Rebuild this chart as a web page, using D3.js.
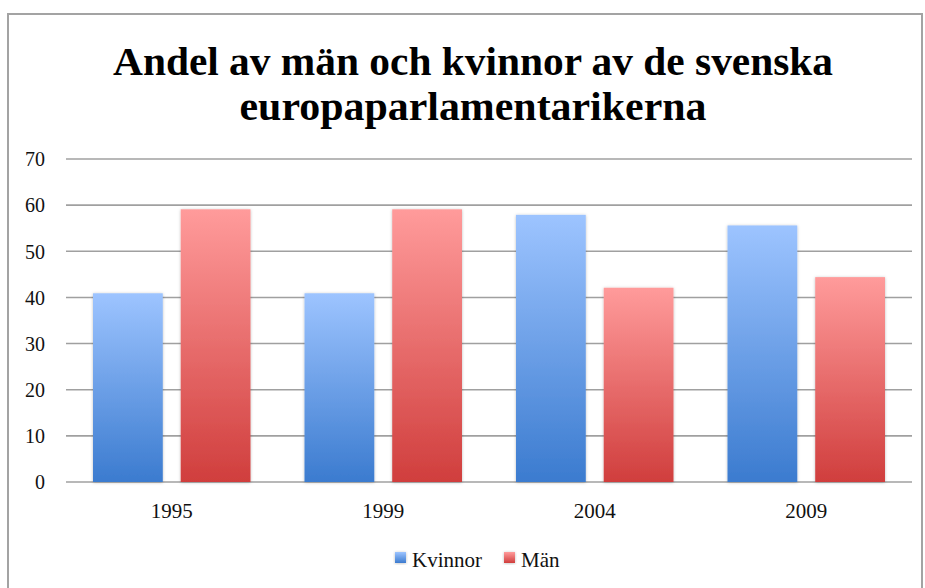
<!DOCTYPE html>
<html>
<head>
<meta charset="utf-8">
<script src="https://cdn.jsdelivr.net/npm/d3@7"></script>
<style>
  html, body { margin: 0; padding: 0; background: #fff; }
  svg { display: block; }
</style>
</head>
<body>
<svg id="chart" width="925" height="588"></svg>
<script>
const categories = ["1995", "1999", "2004", "2009"];
const seriesNames = ["Kvinnor", "Män"];
const kvinnor = [40.9, 40.9, 57.9, 55.6];
const man = [59.1, 59.1, 42.1, 44.4];
const yTicks = [0, 10, 20, 30, 40, 50, 60, 70];
const titleLines = ["Andel av män och kvinnor av de svenska", "europaparlamentarikerna"];

const seriesValues = [kvinnor, man];
const colors = [
  { top: "#9dc4ff", bottom: "#3b7bcf" },
  { top: "#ff9b9b", bottom: "#d03e3d" }
];

const svg = d3.select("#chart");
const font = "Liberation Serif, DejaVu Serif, serif";

const defs = svg.append("defs");
colors.forEach((c, i) => {
  const g = defs.append("linearGradient")
    .attr("id", "grad" + i)
    .attr("x1", 0).attr("y1", 0).attr("x2", 0).attr("y2", 1);
  g.append("stop").attr("offset", "0%").attr("stop-color", c.top);
  g.append("stop").attr("offset", "100%").attr("stop-color", c.bottom);
});
const f = defs.append("filter").attr("id", "shadow")
  .attr("x", "-10%").attr("y", "-10%").attr("width", "120%").attr("height", "120%");
f.append("feDropShadow").attr("dx", 0).attr("dy", 0.5)
  .attr("stdDeviation", 1.5).attr("flood-color", "#000").attr("flood-opacity", 0.25);

// frame
svg.append("rect")
  .attr("x", 8).attr("y", 14).attr("width", 914).attr("height", 620)
  .attr("fill", "#fff").attr("stroke", "#a3a3a3").attr("stroke-width", 2);

// title
const titleWidths = [720, 467];
svg.append("g").selectAll("text").data(titleLines).join("text")
  .attr("x", 473)
  .attr("y", (d, i) => 75 + i * 45)
  .attr("text-anchor", "middle")
  .attr("font-family", font)
  .attr("font-weight", "bold")
  .attr("font-size", 40)
  .attr("fill", "#000")
  .attr("textLength", (d, i) => titleWidths[i])
  .attr("lengthAdjust", "spacingAndGlyphs")
  .text(d => d);

// scales
const plot = { left: 66, right: 912, top: 159, bottom: 482 };
const y = d3.scaleLinear().domain([0, 70]).range([plot.bottom, plot.top]);
const x0 = d3.scaleBand().domain(categories).range([plot.left, plot.right]).padding(0);
const bw = x0.bandwidth();
const x1 = d3.scaleBand().domain(seriesNames)
  .range([bw * 0.1277, bw * 0.8723]).paddingInner(0.2045).paddingOuter(0);

// gridlines
svg.append("g").selectAll("line").data(yTicks).join("line")
  .attr("x1", plot.left).attr("x2", plot.right)
  .attr("y1", d => y(d)).attr("y2", d => y(d))
  .attr("stroke", "#a0a0a0").attr("stroke-width", 1.6);

// y axis labels
const yAxis = d3.axisLeft(y).tickValues(yTicks).tickSize(0).tickPadding(0).tickFormat(d3.format("d"));
const ya = svg.append("g").attr("transform", `translate(45,0)`).call(yAxis);
ya.select(".domain").remove();
ya.selectAll("text").attr("font-family", font).attr("font-size", 20).attr("fill", "#111").attr("dy", "0.34em");

// bars
const groups = svg.append("g").selectAll("g").data(categories).join("g")
  .attr("transform", d => `translate(${x0(d)},0)`);
groups.selectAll("rect")
  .data((c, ci) => seriesNames.map((s, si) => ({ s, si, v: seriesValues[si][ci] })))
  .join("rect")
  .attr("x", d => x1(d.s))
  .attr("width", x1.bandwidth())
  .attr("y", d => y(d.v))
  .attr("height", d => y(0) - y(d.v))
  .attr("fill", d => `url(#grad${d.si})`)
  .attr("filter", "url(#shadow)");

// x axis labels
const xAxis = d3.axisBottom(x0).tickSize(0).tickPadding(0);
const xa = svg.append("g").attr("transform", `translate(0,${plot.bottom})`).call(xAxis);
xa.select(".domain").remove();
xa.selectAll("text").attr("font-family", font).attr("font-size", 21).attr("fill", "#111")
  .attr("dy", 0).attr("y", 36);

// legend
const legendItems = [
  { name: seriesNames[0], sx: 395, tx: 412, si: 0 },
  { name: seriesNames[1], sx: 504, tx: 521, si: 1 }
];
const lg = svg.append("g").selectAll("g").data(legendItems).join("g");
lg.append("rect")
  .attr("x", d => d.sx).attr("y", 552).attr("width", 11).attr("height", 11)
  .attr("fill", d => `url(#grad${d.si})`).attr("filter", "url(#shadow)");
lg.append("text")
  .attr("x", d => d.tx).attr("y", 567)
  .attr("font-family", font).attr("font-size", 21).attr("fill", "#111")
  .text(d => d.name);
</script>
</body>
</html>
